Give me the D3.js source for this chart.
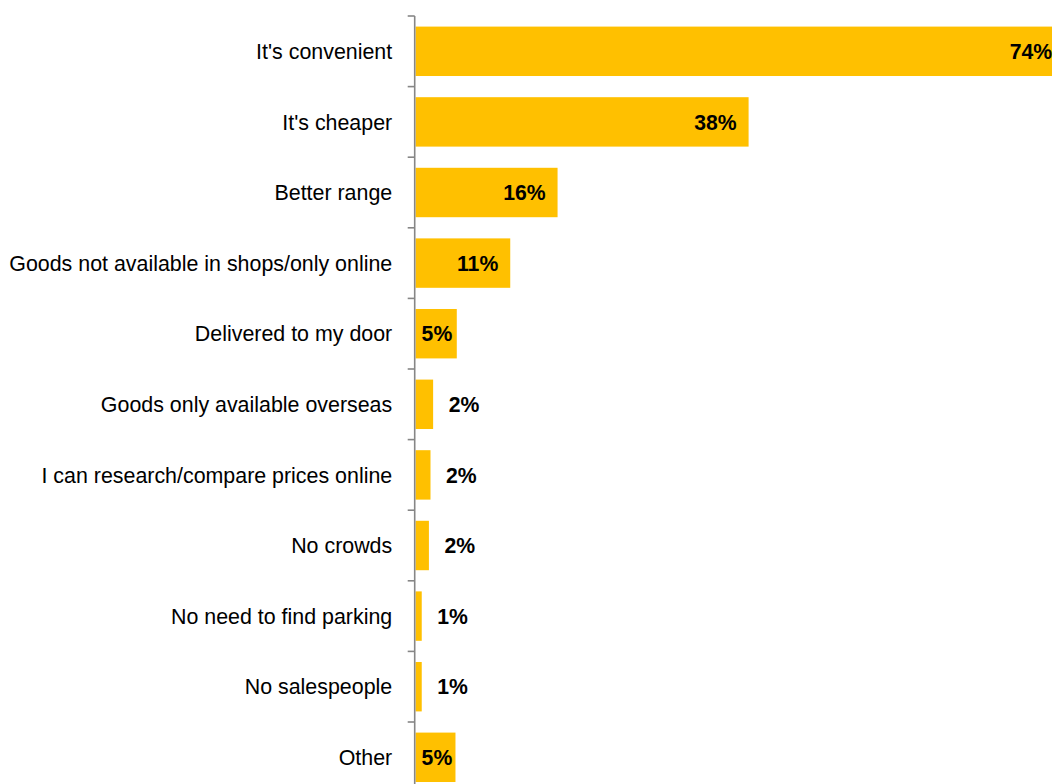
<!DOCTYPE html>
<html>
<head>
<meta charset="utf-8">
<script src="https://cdn.jsdelivr.net/npm/d3@7"></script>
<style>
  html, body { margin: 0; padding: 0; background: #fff; }
  svg { display: block; }
</style>
</head>
<body>
<svg id="chart" width="1052" height="784"></svg>
<script>
// Reasons for shopping online (% of respondents)
const categories = [
  "It's convenient",
  "It's cheaper",
  "Better range",
  "Goods not available in shops/only online",
  "Delivered to my door",
  "Goods only available overseas",
  "I can research/compare prices online",
  "No crowds",
  "No need to find parking",
  "No salespeople",
  "Other"
];
const percentages = [74, 38, 16.2, 10.8, 4.7, 2.0, 1.7, 1.52, 0.7, 0.7, 4.55];

const W = 1052, H = 784;
const axisX = 414.7;
const barColor = "#FFC000";
const axisColor = "#868686";
const fontFamily = "Arial, 'Liberation Sans', Helvetica, sans-serif";

const svg = d3.select("#chart");

const data = categories.map((c, i) => ({ cat: c, val: percentages[i] }));

// Horizontal value scale: bars start just right of the axis line
const x = d3.scaleLinear().domain([0, 80]).range([415.6, 415.6 + 80 * 8.763]);

// Category bands, top to bottom
const y = d3.scaleBand()
  .domain(categories)
  .range([16, 16 + categories.length * 70.6])
  .paddingInner(0.3)
  .paddingOuter(0.15);

// Bars
svg.append("g")
  .selectAll("rect")
  .data(data)
  .join("rect")
  .attr("x", x(0))
  .attr("y", d => y(d.cat))
  .attr("width", d => x(d.val) - x(0))
  .attr("height", y.bandwidth())
  .attr("fill", barColor);

// Category labels via a left axis without ticks or domain line
const catAxis = svg.append("g")
  .attr("transform", `translate(${axisX},0)`)
  .call(d3.axisLeft(y).tickSize(0).tickPadding(22.5));
catAxis.select(".domain").remove();
catAxis.selectAll("text")
  .attr("font-family", fontFamily)
  .attr("font-size", 21.4)
  .attr("dy", "0.36em")
  .attr("fill", "#000");

// Axis line and boundary ticks between categories
const step = y.step();
const boundaries = d3.range(categories.length + 1).map(i => y.range()[0] + i * step);
const axisG = svg.append("g");
axisG.append("line")
  .attr("x1", axisX).attr("x2", axisX)
  .attr("y1", boundaries[0]).attr("y2", H + 20)
  .attr("stroke", axisColor).attr("stroke-width", 1.6);
axisG.selectAll("line.tick")
  .data(boundaries)
  .join("line")
  .attr("class", "tick")
  .attr("x1", axisX - 7).attr("x2", axisX)
  .attr("y1", d => d).attr("y2", d => d)
  .attr("stroke", axisColor).attr("stroke-width", 1.6);

// Value labels: inside the bar end when they fit, otherwise just past it
const labels = svg.append("g")
  .selectAll("text")
  .data(data)
  .join("text")
  .attr("font-family", fontFamily)
  .attr("font-size", 21.2)
  .attr("font-weight", "bold")
  .attr("fill", "#000")
  .attr("y", d => y(d.cat) + y.bandwidth() / 2)
  .attr("dy", "0.36em")
  .text(d => Math.round(d.val) + "%");

labels.each(function(d) {
  const w = this.getComputedTextLength();
  const barW = x(d.val) - x(0);
  let left;
  if (w + 8 <= barW) {
    left = Math.max(x(d.val) - 12 - w, x(0) + 6);
  } else {
    left = x(d.val) + 15.5;
  }
  d3.select(this).attr("x", left);
});
</script>
</body>
</html>
